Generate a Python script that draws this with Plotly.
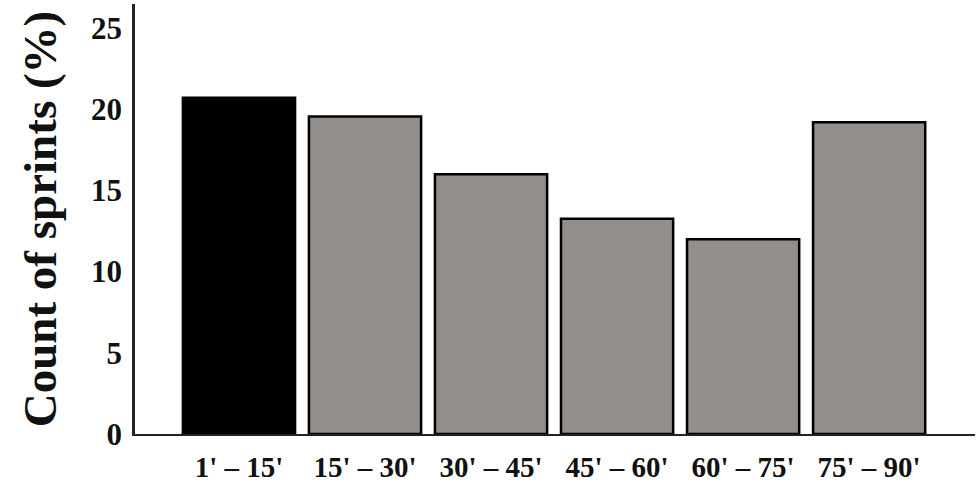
import plotly.graph_objects as go

categories = ["1' – 15'", "15' – 30'", "30' – 45'", "45' – 60'", "60' – 75'", "75' – 90'"]
values = [20.7, 19.55, 16.0, 13.25, 12.0, 19.2]
bar_colors = ["#000000", "#918e8c", "#918e8c", "#918e8c", "#918e8c", "#918e8c"]
y_ticks = [0, 5, 10, 15, 20, 25]

fig = go.Figure(go.Bar(
    x=list(range(len(categories))),
    y=values,
    marker=dict(color=bar_colors, line=dict(color="#000000", width=2.5)),
    width=0.89,
))

font_family = "Liberation Serif, Times New Roman, serif"
fig.update_layout(
    width=977, height=491,
    margin=dict(l=135, r=2, t=4, b=57),
    plot_bgcolor="white", paper_bgcolor="white",
    showlegend=False,
    font=dict(family=font_family, color="#111111"),
)
fig.update_xaxes(
    range=[-0.825, 5.84],
    tickmode="array", tickvals=list(range(len(categories))), ticktext=categories,
    tickfont=dict(size=29, family=font_family, weight="bold"),
    showline=True, linecolor="#222222", linewidth=2,
    showgrid=False, zeroline=False, ticks="", ticklabelstandoff=6,
)
fig.update_yaxes(
    range=[0, 26.48],
    tickmode="array", tickvals=y_ticks,
    tickfont=dict(size=31, family=font_family, weight="bold"),
    showline=True, linecolor="#222222", linewidth=2.5,
    showgrid=False, zeroline=False, ticks="", ticklabelstandoff=4,
    title=dict(text="Count of sprints (%)", font=dict(size=47, family=font_family, weight="bold"), standoff=20),
)

fig.write_html("out.html", config={"displayModeBar": False},
               post_script="document.body.style.margin='0';document.body.style.padding='0';")
